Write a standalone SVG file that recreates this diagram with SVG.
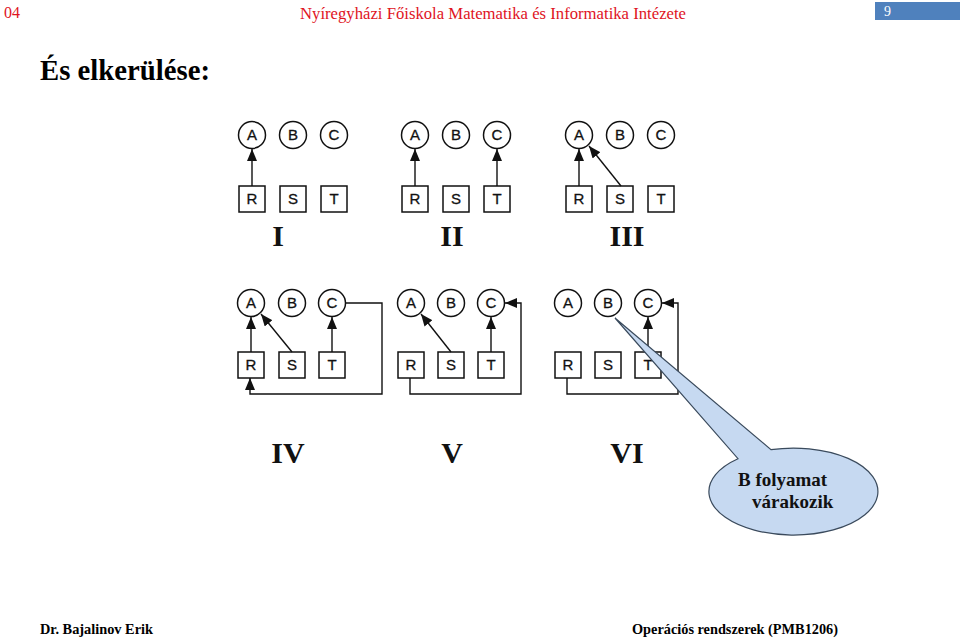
<svg xmlns="http://www.w3.org/2000/svg" width="960" height="638" viewBox="0 0 960 638">
<defs>
<marker id="ah" markerUnits="userSpaceOnUse" markerWidth="13" markerHeight="10" refX="12" refY="5" orient="auto"><path d="M0,0 L12,5 L0,10 Z" fill="#111"/></marker>
<style>
.hdr{font-family:"Liberation Serif",serif;font-size:16px;fill:#e0141e}
.ttl{font-family:"Liberation Serif",serif;font-weight:bold;font-size:29px;fill:#000}
.ft{font-family:"Liberation Serif",serif;font-weight:bold;font-size:15px;fill:#000}
.num{font-family:"Liberation Serif",serif;font-weight:bold;font-size:30px;fill:#111;text-anchor:middle}
.nd circle,.nd rect{fill:#fff;stroke:#111;stroke-width:1.5}
.nd text{font-family:"Liberation Sans",Arial,sans-serif;font-size:15px;fill:#111;text-anchor:middle;stroke:#111;stroke-width:0.3}
.cn path{fill:none;stroke:#111;stroke-width:1.4}
.cl{font-family:"Liberation Serif",serif;font-weight:bold;font-size:19px;fill:#111}
</style>
</defs>
<rect width="960" height="638" fill="#fff"/>
<text class="hdr" x="4" y="18">04</text>
<text class="hdr" x="300" y="19" textLength="386" lengthAdjust="spacingAndGlyphs">Nyíregyházi Főiskola Matematika és Informatika Intézete</text>
<rect x="875" y="2" width="85" height="18" fill="#4f81bd"/>
<text x="884" y="16" font-family="Liberation Serif,serif" font-size="14" fill="#fff">9</text>
<text class="ttl" x="40" y="80" textLength="170" lengthAdjust="spacingAndGlyphs">És elkerülése:</text>

<!-- Row 1 -->
<g id="I-A" class="nd"><circle cx="252" cy="135" r="13.5"/><text x="252" y="140">A</text></g>
<g id="I-B" class="nd"><circle cx="293" cy="135" r="13.5"/><text x="293" y="140">B</text></g>
<g id="I-C" class="nd"><circle cx="334" cy="135" r="13.5"/><text x="334" y="140">C</text></g>
<g id="I-R" class="nd"><rect x="239" y="186" width="26" height="26"/><text x="252" y="204">R</text></g>
<g id="I-S" class="nd"><rect x="280" y="186" width="26" height="26"/><text x="293" y="204">S</text></g>
<g id="I-T" class="nd"><rect x="321" y="186" width="26" height="26"/><text x="334" y="204">T</text></g>

<g id="II-A" class="nd"><circle cx="415" cy="135" r="13.5"/><text x="415" y="140">A</text></g>
<g id="II-B" class="nd"><circle cx="456" cy="135" r="13.5"/><text x="456" y="140">B</text></g>
<g id="II-C" class="nd"><circle cx="497" cy="135" r="13.5"/><text x="497" y="140">C</text></g>
<g id="II-R" class="nd"><rect x="402" y="186" width="26" height="26"/><text x="415" y="204">R</text></g>
<g id="II-S" class="nd"><rect x="443" y="186" width="26" height="26"/><text x="456" y="204">S</text></g>
<g id="II-T" class="nd"><rect x="484" y="186" width="26" height="26"/><text x="497" y="204">T</text></g>

<g id="III-A" class="nd"><circle cx="579" cy="135" r="13.5"/><text x="579" y="140">A</text></g>
<g id="III-B" class="nd"><circle cx="620" cy="135" r="13.5"/><text x="620" y="140">B</text></g>
<g id="III-C" class="nd"><circle cx="661" cy="135" r="13.5"/><text x="661" y="140">C</text></g>
<g id="III-R" class="nd"><rect x="566" y="186" width="26" height="26"/><text x="579" y="204">R</text></g>
<g id="III-S" class="nd"><rect x="607" y="186" width="26" height="26"/><text x="620" y="204">S</text></g>
<g id="III-T" class="nd"><rect x="648" y="186" width="26" height="26"/><text x="661" y="204">T</text></g>

<!-- Row 2 -->
<g id="IV-A" class="nd"><circle cx="251" cy="303" r="13.5"/><text x="251" y="308">A</text></g>
<g id="IV-B" class="nd"><circle cx="292" cy="303" r="13.5"/><text x="292" y="308">B</text></g>
<g id="IV-C" class="nd"><circle cx="332" cy="303" r="13.5"/><text x="332" y="308">C</text></g>
<g id="IV-R" class="nd"><rect x="238" y="352" width="26" height="26"/><text x="251" y="370">R</text></g>
<g id="IV-S" class="nd"><rect x="279" y="352" width="26" height="26"/><text x="292" y="370">S</text></g>
<g id="IV-T" class="nd"><rect x="319" y="352" width="26" height="26"/><text x="332" y="370">T</text></g>

<g id="V-A" class="nd"><circle cx="411" cy="303" r="13.5"/><text x="411" y="308">A</text></g>
<g id="V-B" class="nd"><circle cx="451" cy="303" r="13.5"/><text x="451" y="308">B</text></g>
<g id="V-C" class="nd"><circle cx="491" cy="303" r="13.5"/><text x="491" y="308">C</text></g>
<g id="V-R" class="nd"><rect x="398" y="352" width="26" height="26"/><text x="411" y="370">R</text></g>
<g id="V-S" class="nd"><rect x="438" y="352" width="26" height="26"/><text x="451" y="370">S</text></g>
<g id="V-T" class="nd"><rect x="478" y="352" width="26" height="26"/><text x="491" y="370">T</text></g>

<g id="VI-A" class="nd"><circle cx="568" cy="303" r="13.5"/><text x="568" y="308">A</text></g>
<g id="VI-B" class="nd"><circle cx="608" cy="303" r="13.5"/><text x="608" y="308">B</text></g>
<g id="VI-C" class="nd"><circle cx="648" cy="303" r="13.5"/><text x="648" y="308">C</text></g>
<g id="VI-R" class="nd"><rect x="555" y="352" width="26" height="26"/><text x="568" y="370">R</text></g>
<g id="VI-S" class="nd"><rect x="595" y="352" width="26" height="26"/><text x="608" y="370">S</text></g>
<g id="VI-T" class="nd"><rect x="635" y="352" width="26" height="26"/><text x="648" y="370">T</text></g>

<g id="connectors" class="cn">
<path d="M252,186 L252,149" marker-end="url(#ah)"/>
<path d="M415,186 L415,149" marker-end="url(#ah)"/>
<path d="M497,186 L497,149" marker-end="url(#ah)"/>
<path d="M579,186 L579,149" marker-end="url(#ah)"/>
<path d="M621,186 L589,146" marker-end="url(#ah)"/>
<path d="M251,352 L251,317" marker-end="url(#ah)"/>
<path d="M292,352 L261,314" marker-end="url(#ah)"/>
<path d="M332,352 L332,317" marker-end="url(#ah)"/>
<path d="M346,303 L382,303 L382,394 L250,394 L250,378" marker-end="url(#ah)"/>
<path d="M451,352 L421,314" marker-end="url(#ah)"/>
<path d="M491,352 L491,317" marker-end="url(#ah)"/>
<path d="M410,378 L410,394 L521,394 L521,303 L505,303" marker-end="url(#ah)"/>
<path d="M648,352 L648,317" marker-end="url(#ah)"/>
<path d="M567,378 L567,394 L678,394 L678,303 L662,303" marker-end="url(#ah)"/>
</g>

<text class="num" x="278" y="246">I</text>
<text class="num" x="452" y="246">II</text>
<text class="num" x="627" y="246">III</text>
<text class="num" x="288" y="463">IV</text>
<text class="num" x="452" y="463">V</text>
<text class="num" x="627" y="463">VI</text>

<g id="callout">
<path d="M615,318 L771,449.6 A84.5,43.5 0 1,1 738,458.7 Z" fill="#c6d9f1" stroke="#3a4a5c" stroke-width="1.2"/>
<text class="cl" x="738" y="486">B folyamat</text>
<text class="cl" x="752" y="508">várakozik</text>
</g>

<text class="ft" x="40" y="634" textLength="113" lengthAdjust="spacingAndGlyphs">Dr. Bajalinov Erik</text>
<text class="ft" x="632" y="634" textLength="206" lengthAdjust="spacingAndGlyphs">Operációs rendszerek (PMB1206)</text>
</svg>
